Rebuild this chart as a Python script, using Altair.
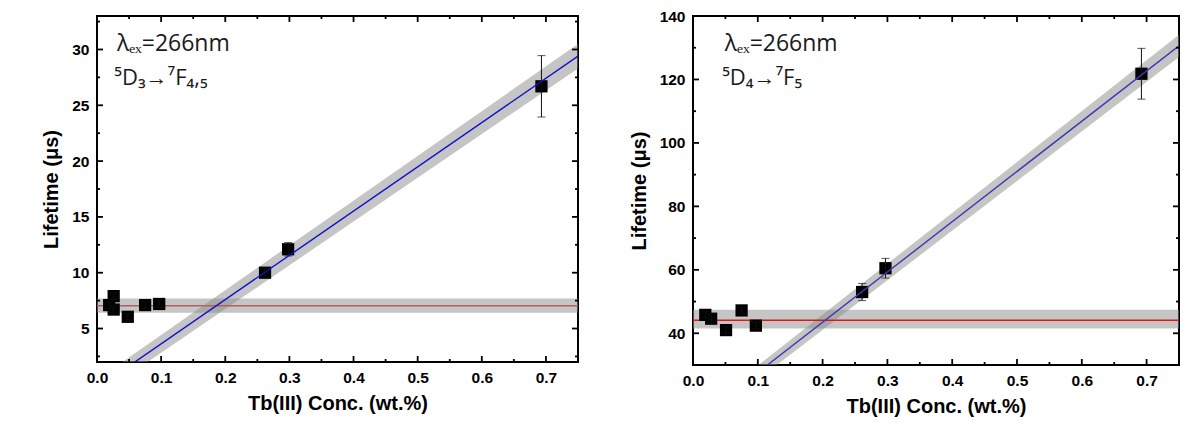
import altair as alt
import pandas as pd

# ---------------- data ----------------
# Left panel: 5D3 -> 7F4,5
left_x = [0.019, 0.026, 0.026, 0.048, 0.075, 0.097, 0.262, 0.298, 0.693]
left_y = [7.1, 7.9, 6.7, 6.05, 7.1, 7.2, 10.0, 12.1, 26.7]
left_err = [0.3, 0.3, 0.3, 0.3, 0.3, 0.3, 0.4, 0.6, 2.75]

left_fit_x = [0.0, 0.75]
left_fit_y = [-0.34, 29.4]
left_fit_lo = [-1.09, 28.3]
left_fit_hi = [0.41, 30.5]
left_const_y = [7.05, 7.05]
left_const_lo = [6.42, 6.42]
left_const_hi = [7.68, 7.68]

# Right panel: 5D4 -> 7F5
right_x = [0.019, 0.028, 0.051, 0.075, 0.097, 0.261, 0.297, 0.692]
right_y = [45.8, 44.6, 41.0, 47.2, 42.4, 53.0, 60.5, 121.8]
right_err = [1.0, 1.6, 1.0, 1.0, 1.0, 2.7, 3.1, 8.0]

right_fit_x = [0.0, 0.75]
right_fit_y = [11.8, 130.6]
right_fit_lo = [9.8, 127.1]
right_fit_hi = [13.8, 134.1]
right_const_y = [44.1, 44.1]
right_const_lo = [41.5, 41.5]
right_const_hi = [47.4, 47.4]

# axis ticks / labels
x_major = [0.0, 0.1, 0.2, 0.3, 0.4, 0.5, 0.6, 0.7]
x_minor = [0.05, 0.15, 0.25, 0.35, 0.45, 0.55, 0.65]
left_y_major = [5, 10, 15, 20, 25, 30]
left_y_minor = [2.5, 7.5, 12.5, 17.5, 22.5, 27.5, 32.5]
right_y_major = [40, 60, 80, 100, 120, 140]
right_y_minor = [50, 70, 90, 110, 130]

left_text1 = "λₑₓ=266nm"
left_text2 = "⁵D₃→⁷F₄,₅"
right_text1 = "λₑₓ=266nm"
right_text2 = "⁵D₄→⁷F₅"

FONT = "Liberation Sans"


def panel(px, py, perr, fx, fy, flo, fhi, cy, clo, chi,
          xdom, ydom, ymaj, ymin, W, H, txt1, txt2, tpos,
          blue, red, red_over):
    xs = alt.Scale(domain=xdom, nice=False, zero=False, padding=0)
    ys = alt.Scale(domain=ydom, nice=False, zero=False, padding=0)
    X = lambda f: alt.X(f, type="quantitative", scale=xs,
                        axis=alt.Axis(values=x_major, format=".1f", labelFlush=False,
                                      title="Tb(III) Conc. (wt.%)"))
    Y = lambda f: alt.Y(f, type="quantitative", scale=ys,
                        axis=alt.Axis(values=ymaj, format="d", labelFlush=False,
                                      title="Lifetime (μs)"))

    pts = pd.DataFrame({"x": px, "y": py,
                        "lo": [a - b for a, b in zip(py, perr)],
                        "hi": [a + b for a, b in zip(py, perr)]})
    fit = pd.DataFrame({"x": fx, "y": fy, "lo": flo, "hi": fhi})
    const = pd.DataFrame({"x": fx, "y": cy, "lo": clo, "hi": chi})

    band_fit = alt.Chart(fit).mark_area(clip=True, color="#8c8c8c", opacity=0.5).encode(
        x=X("x"), y=Y("lo"), y2="hi")
    band_const = alt.Chart(const).mark_area(clip=True, color="#8c8c8c", opacity=0.5).encode(
        x=X("x"), y=Y("lo"), y2="hi")
    line_fit = alt.Chart(fit).mark_line(clip=True, color=blue, strokeWidth=1.4).encode(
        x=X("x"), y=Y("y"))
    line_const = alt.Chart(const).mark_line(clip=True, color=red, strokeWidth=1.5).encode(
        x=X("x"), y=Y("y"))
    err = alt.Chart(pts).mark_errorbar(ticks={"size": 8}, color="#111111", thickness=1).encode(
        x=X("x"), y=Y("lo"), y2="hi")
    sq = alt.Chart(pts).mark_square(size=150, color="black", opacity=1).encode(
        x=X("x"), y=Y("y"))

    txt1_df = pd.DataFrame({"x": [tpos[0]], "y": [tpos[1]], "t": [txt1]})
    txt2_df = pd.DataFrame({"x": [tpos[2]], "y": [tpos[3]], "t": [txt2]})
    text1 = alt.Chart(txt1_df).mark_text(align="left", baseline="alphabetic", fontSize=23,
                                         font="Open Sans", color="#1a1a1a").encode(
        x=X("x"), y=Y("y"), text="t:N")
    text2 = alt.Chart(txt2_df).mark_text(align="left", baseline="alphabetic", fontSize=22,
                                         font="Open Sans", color="#1a1a1a").encode(
        x=X("x"), y=Y("y"), text="t:N")

    # inward ticks on all four sides
    xmaj = pd.DataFrame({"v": x_major})
    xmin = pd.DataFrame({"v": x_minor})
    ymajd = pd.DataFrame({"v": ymaj})
    ymind = pd.DataFrame({"v": ymin})
    tk = []
    for d, L in ((xmaj, 6), (xmin, 3)):
        tk.append(alt.Chart(d).mark_rule(color="black", strokeWidth=1.8).encode(
            x=X("v"), y=alt.value(0), y2=alt.value(L)))
        tk.append(alt.Chart(d).mark_rule(color="black", strokeWidth=1.8).encode(
            x=X("v"), y=alt.value(H), y2=alt.value(H - L)))
    for d, L in ((ymajd, 6), (ymind, 3)):
        tk.append(alt.Chart(d).mark_rule(color="black", strokeWidth=1.8).encode(
            y=Y("v"), x=alt.value(0), x2=alt.value(L)))
        tk.append(alt.Chart(d).mark_rule(color="black", strokeWidth=1.8).encode(
            y=Y("v"), x=alt.value(W), x2=alt.value(W - L)))

    if red_over:
        layers = [band_fit, line_const, band_const, sq, err, line_fit]
    else:
        layers = [band_fit, band_const, line_const, sq, err, line_fit]
    return alt.layer(*layers, text1, text2, *tk).properties(width=W, height=H)


left = panel(left_x, left_y, left_err, left_fit_x, left_fit_y, left_fit_lo, left_fit_hi,
             left_const_y, left_const_lo, left_const_hi,
             [0, 0.75], [2, 33], left_y_major, left_y_minor, 481, 346,
             left_text1, left_text2, (0.031, 29.9, 0.027, 26.8),
             "#1010cc", "#d83030", True)

right = panel(right_x, right_y, right_err, right_fit_x, right_fit_y, right_fit_lo, right_fit_hi,
              right_const_y, right_const_lo, right_const_hi,
              [0, 0.75], [30, 140], right_y_major, right_y_minor, 486, 349,
              right_text1, right_text2, (0.049, 129.0, 0.045, 118.3),
              "#3a3ab4", "#e01818", False)

chart = alt.hconcat(left, right, spacing=115, bounds="flush").properties(
    padding={"left": 32, "top": 0, "right": 0, "bottom": 0}
).configure_view(
    stroke="black", strokeWidth=2
).configure_axis(
    labelFont=FONT, labelFontWeight="bold", labelFontSize=15.5, labelColor="black",
    titleFont=FONT, titleFontWeight="bold", titleFontSize=20, titleColor="black",
    domain=False, ticks=False, grid=False, labelFlush=False
).configure_axisX(
    labelPadding=8, titlePadding=8
).configure_axisY(
    labelPadding=8, titlePadding=10
)

chart.save("out.html", embed_options={"renderer": "svg", "actions": False})
